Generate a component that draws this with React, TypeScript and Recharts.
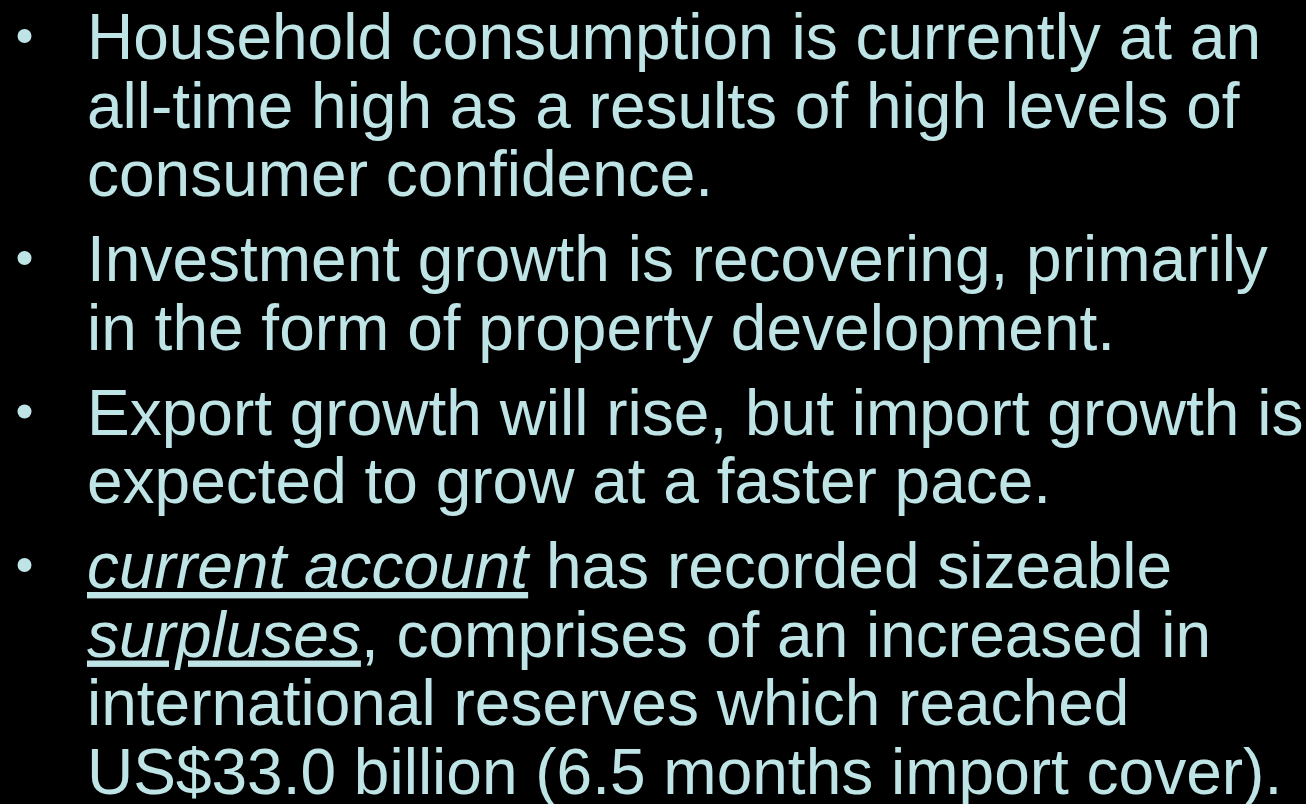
import React from "react";
import { Surface } from "recharts";

type Seg = { t: string; i?: boolean };

const bullet1: Seg[][] = [
  [{ t: "Household consumption is currently at an" }],
  [{ t: "all-time high as a results of high levels of" }],
  [{ t: "consumer confidence." }],
];
const bullet2: Seg[][] = [
  [{ t: "Investment growth is recovering, primarily" }],
  [{ t: "in the form of property development." }],
];
const bullet3: Seg[][] = [
  [{ t: "Export growth will rise, but import growth is" }],
  [{ t: "expected to grow at a faster pace." }],
];
const bullet4: Seg[][] = [
  [{ t: "current account", i: true }, { t: " has recorded sizeable" }],
  [{ t: "surpluses", i: true }, { t: ", comprises of an increased in" }],
  [{ t: "international reserves which reached" }],
  [{ t: "US$33.0 billion (6.5 months import cover)." }],
];
const bullets = [bullet1, bullet2, bullet3, bullet4];

const W = 1306;
const H = 804;
const COLOR = "#bfe4e6";
const FIRST_BASE = 59;
const LINE = 68.5;
const PARA = 85;
const TEXT_X = 87;
const FONT = 64;

export default function App() {
  const items: React.ReactNode[] = [];
  let y = FIRST_BASE;
  bullets.forEach((b, bi) => {
    if (bi > 0) y += PARA - LINE;
    items.push(
      <circle key={"b" + bi} cx={24.5} cy={y - 23} r={7} fill={COLOR} />
    );
    b.forEach((line, li) => {
      items.push(
        <text
          key={bi + "-" + li}
          x={TEXT_X}
          y={y}
          fill={COLOR}
          fontSize={FONT}
          fontFamily="'Liberation Sans', Arial, sans-serif"
        >
          {line.map((s, si) =>
            s.i ? (
              <tspan key={si} fontStyle="italic" textDecoration="underline">
                {s.t}
              </tspan>
            ) : (
              <tspan key={si}>{s.t}</tspan>
            )
          )}
        </text>
      );
      y += LINE;
    });
  });
  return (
    <div style={{ position: "absolute", left: 0, top: 0, width: W, height: H, background: "#000" }}>
      <Surface width={W} height={H}>
        <rect x={0} y={0} width={W} height={H} fill="#000" />
        {items}
      </Surface>
    </div>
  );
}
